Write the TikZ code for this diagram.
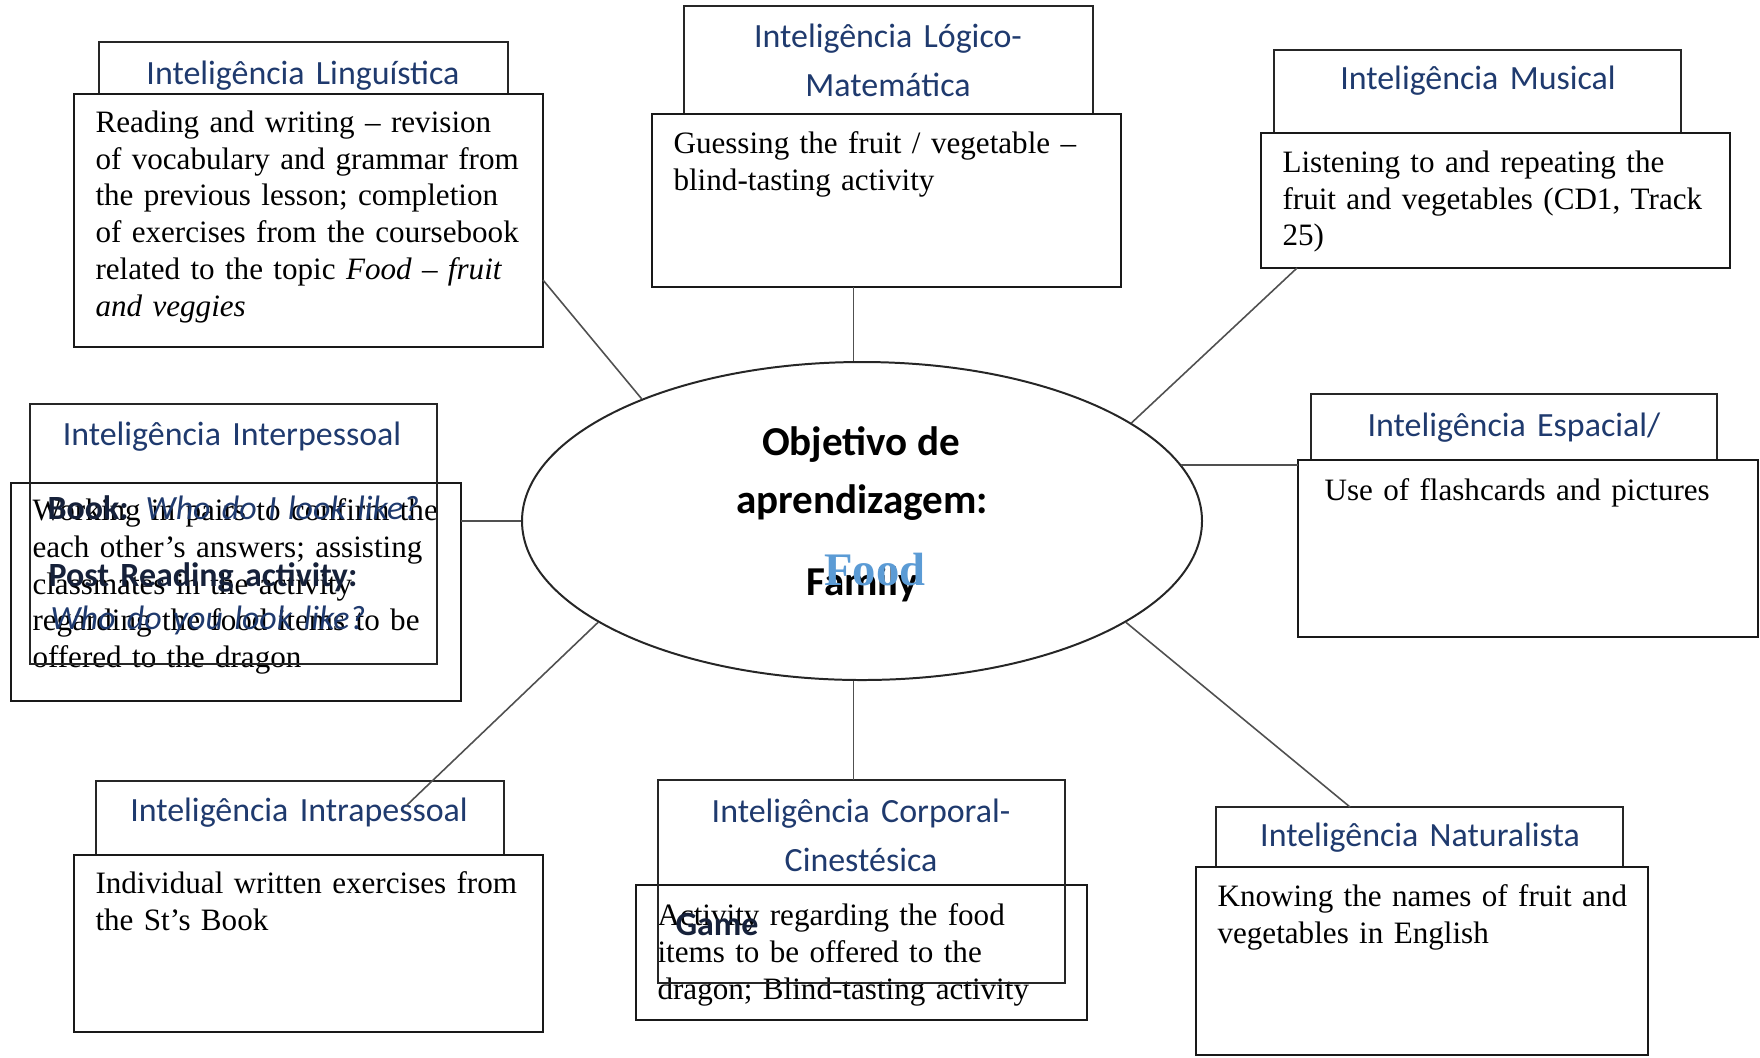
\documentclass[tikz,border=0pt]{standalone}
\usepackage{fontspec}
\setmainfont{Liberation Serif}
\newfontfamily\hdfont{Carlito}
\usetikzlibrary{shapes.geometric}
\definecolor{hdblue}{HTML}{1F3A6E}
\definecolor{hddark}{HTML}{16213A}
\definecolor{foodblue}{HTML}{5B9BD5}
\definecolor{linkgray}{HTML}{505050}
\def\pu{0.3774pt}
\tikzset{
  hdbox/.style={draw=black!85,line width=0.75pt,fill=white,inner sep=0,outer sep=0,anchor=north west},
  bodybox/.style={draw=black!90,line width=0.8pt,fill=white,inner sep=0,outer sep=0,anchor=north west},
  hdtext/.style={font=\hdfont\fontsize{12.8}{18.7}\selectfont,text=hdblue,inner sep=0,anchor=base,text width=170pt,align=center},
  bodytext/.style={font=\fontsize{11.74}{13.96}\selectfont,inner sep=0,anchor=base west,text width=190pt,align=left},
  goaltext/.style={font=\hdfont\bfseries\fontsize{15.5}{18}\selectfont,inner sep=0,anchor=base},
  link/.style={draw=linkgray,line width=0.6pt}
}

\begin{document}
\begin{tikzpicture}[x=\pu,y=-\pu]
 \useasboundingbox (0,0) rectangle (1760,1057);
 % header boxes hidden behind their bodies
 \node[hdbox,minimum width=409*\pu,minimum height=52*\pu] (lingH) at (99,42) {};
 \node[hdtext] (lingT) at (303,84.5) {Inteligência Linguística};
 \node[hdbox,minimum width=409*\pu,minimum height=108*\pu] (logH) at (684,6) {};
 \node[hdtext] (logT) at (888,47) {Inteligência Lógico-\\Matemática};
 \node[hdbox,minimum width=407*\pu,minimum height=83*\pu] (musH) at (1274,50) {};
 \node[hdtext] (musT) at (1478,89.5) {Inteligência Musical};
 \node[hdbox,minimum width=406*\pu,minimum height=66*\pu] (espH) at (1311,394) {};
 \node[hdtext] (espT) at (1514,436) {Inteligência Espacial/};
 \node[hdbox,minimum width=408*\pu,minimum height=74*\pu] (intraH) at (96,781) {};
 \node[hdtext] (intraT) at (299,821) {Inteligência Intrapessoal};
 \node[hdbox,minimum width=407*\pu,minimum height=60*\pu] (natH) at (1216,807) {};
 \node[hdtext] (natT) at (1420,846) {Inteligência Naturalista};

 % activity boxes
 \node[bodybox,minimum width=469*\pu,minimum height=253*\pu] (lingB) at (74,94) {};
 \node[bodytext] (lingA) at (95,132) {Reading and writing – revision\\of vocabulary and grammar from\\the previous lesson; completion\\of exercises from the coursebook\\related to the topic \textit{Food – fruit}\\\textit{and veggies}};
 \node[bodybox,minimum width=469*\pu,minimum height=173*\pu] (logB) at (652,114) {};
 \node[bodytext] (logA) at (673,153) {Guessing the fruit / vegetable –\\blind-tasting activity};
 \node[bodybox,minimum width=469*\pu,minimum height=135*\pu] (musB) at (1261,133) {};
 \node[bodytext] (musA) at (1282,172) {Listening to and repeating the\\fruit and vegetables (CD1, Track\\25)};
 \node[bodybox,minimum width=460*\pu,minimum height=177*\pu] (espB) at (1298,460) {};
 \node[bodytext] (espA) at (1324,500) {Use of flashcards and pictures};
 \node[bodybox,minimum width=469*\pu,minimum height=177*\pu] (intraB) at (74,855) {};
 \node[bodytext] (intraA) at (95,893) {Individual written exercises from\\the St’s Book};
 \node[bodybox,minimum width=452*\pu,minimum height=188*\pu] (natB) at (1196,867) {};
 \node[bodytext] (natA) at (1217,906) {Knowing the names of fruit and\\vegetables in English};

 % these two headers lie over their bodies
 \node[bodybox,minimum width=450*\pu,minimum height=218*\pu] (interB) at (11,483) {};
 \node[bodytext] (interA) at (32,520) {Working in pairs to confirm the\\each other’s answers; assisting\\classmates in the activity\\regarding the food items to be\\offered to the dragon};
 \node[hdbox,fill=none,minimum width=407*\pu,minimum height=260*\pu] (interH) at (30,404) {};
 \node[hdtext] (interT) at (232,445) {Inteligência Interpessoal};
 \node[hdtext,anchor=base west,align=left] (interS1) at (47,519) {\textcolor{hddark}{\textbf{Book:}} \textit{Who do I look like?}};
 \node[hdtext,anchor=base west,align=left,text=hddark] (interS2) at (48,586) {\textbf{Post Reading activity:}};
 \node[hdtext,anchor=base west,align=left] (interS3) at (50,629) {\textit{Who do you look like?}};

 \node[bodybox,minimum width=451*\pu,minimum height=135*\pu] (corB) at (636,885) {};
 \node[bodytext] (corA) at (657,925) {Activity regarding the food\\items to be offered to the\\dragon; Blind-tasting activity};
 \node[hdbox,fill=none,minimum width=407*\pu,minimum height=203*\pu] (corH) at (658,780) {};
 \node[hdtext] (corT) at (861,822) {Inteligência Corporal-\\Cinestésica};
 \node[hdtext,anchor=base west,align=left,text=hddark] (corS) at (675,935) {\textbf{Game}};

 % centre
 \node[ellipse,draw=black!85,line width=0.75pt,inner sep=0,minimum width=680*\pu,minimum height=318*\pu] (ell) at (862,521) {};
 \node[goaltext] (goal1) at (861,455) {Objetivo de};
 \node[goaltext] (goal2) at (862,513) {aprendizagem:};
 \node[goaltext] (goal3) at (862,595) {Family};
 \node[font=\bfseries\fontsize{17.6}{20}\selectfont,text=foodblue,inner sep=0,anchor=base] (goal4) at (875,585) {Food};

 % connectors
 \coordinate (lingC) at (543,280);
 \coordinate (musC) at (1297,268);
 \coordinate (natC) at (1350,807);
 \coordinate (intraC) at (407,805);
 \draw[link] (lingC) -- (ell.151);
 \draw[link] (ell.93) -- (ell.93 |- logB.south);
 \draw[link] (ell.20.5) -- (musC);
 \draw[link] (ell.10) -- (ell.10 -| espB.west);
 \draw[link] (ell.-21.5) -- (natC);
 \draw[link] (ell.267) -- (ell.267 |- corH.north);
 \draw[link] (ell.201.5) -- (intraC);
 \draw[link] (interB.east |- ell.west) -- (ell.west);
\end{tikzpicture}
\end{document}
